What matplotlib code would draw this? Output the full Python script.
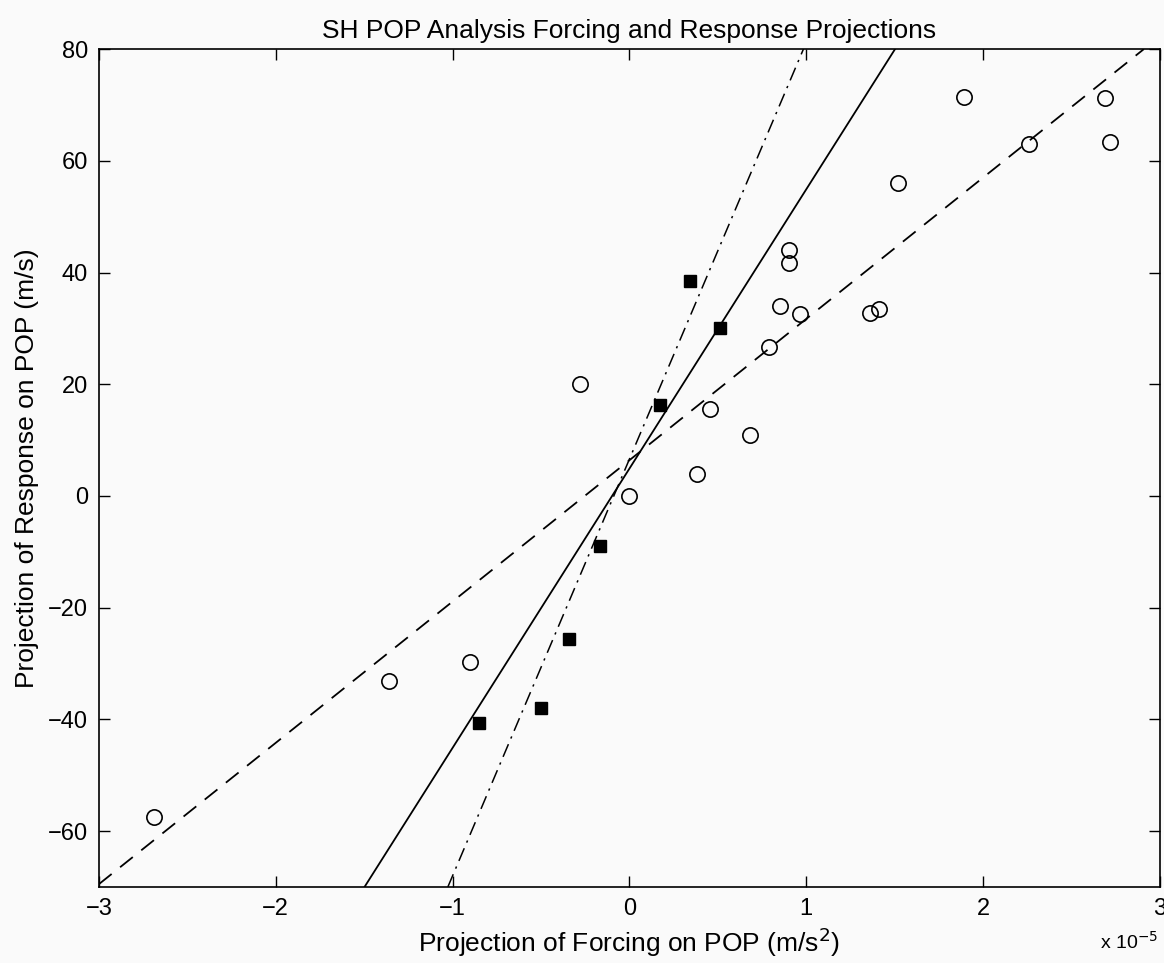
import numpy as np
import matplotlib
matplotlib.use('Agg')
import matplotlib.pyplot as plt

plt.rcParams['font.family'] = ['Liberation Sans', 'DejaVu Sans']

# forcing projection (units of 1e-5 m/s^2) and response projection (m/s)
circle_x = [-2.69, -1.36, -0.90, -0.28, 0.00, 0.38, 0.455, 0.68, 0.79, 0.85,
            0.905, 0.905, 0.965, 1.36, 1.41, 1.52, 1.89, 2.26, 2.69, 2.72]
circle_y = [-57.4, -33.2, -29.8, 20.0, 0.0, 3.9, 15.6, 11.0, 26.6, 34.0,
            44.0, 41.7, 32.6, 32.7, 33.4, 56.1, 71.4, 63.0, 71.3, 63.3]

square_x = [-0.85, -0.50, -0.34, -0.165, 0.175, 0.34, 0.51]
square_y = [-40.6, -38.0, -25.6, -8.9, 16.3, 38.5, 30.1]

# fitted lines: (intercept, slope)
fit_solid = (4.9, 50.0)
fit_dashed = (6.4, 25.3)
fit_dashdot = (6.6, 74.6)

fig = plt.figure(figsize=(11.64, 9.63), dpi=100)
fig.patch.set_facecolor('#fafafa')
ax = fig.add_axes([0.085, 0.079, 0.9115, 0.870])
ax.set_facecolor('#fafafa')

ax.axline((0, fit_solid[0]), slope=fit_solid[1], color='black', lw=1.3)
ax.axline((0, fit_dashed[0]), slope=fit_dashed[1], color='black', lw=1.3,
          linestyle=(0, (9, 6)))
ax.axline((0, fit_dashdot[0]), slope=fit_dashdot[1], color='black', lw=1.1,
          linestyle=(0, (9, 4, 1.5, 4)))

ax.plot(circle_x, circle_y, 'o', mfc='none', mec='black', ms=11, mew=1.2)
ax.plot(square_x, square_y, 's', mfc='black', mec='black', ms=8)

ax.set_xlim(-3, 3)
ax.set_ylim(-70, 80)
ax.set_xticks(np.arange(-3, 4, 1))
ax.set_yticks(np.arange(-60, 81, 20))
ax.tick_params(direction='in', top=True, right=True, length=8, width=1,
               labelsize=17, pad=8)
for s in ax.spines.values():
    s.set_linewidth(1.2)

ax.set_title('SH POP Analysis Forcing and Response Projections', fontsize=19, pad=8)
ax.set_xlabel('Projection of Forcing on POP (m/s$^2$)', fontsize=19, labelpad=4)
ax.set_ylabel('Projection of Response on POP (m/s)', fontsize=19, labelpad=6)
ax.text(0.998, -0.066, 'x 10$^{-5}$', transform=ax.transAxes, fontsize=14,
        ha='right', va='center')

fig.savefig('out.png', dpi=100, facecolor=fig.get_facecolor())
